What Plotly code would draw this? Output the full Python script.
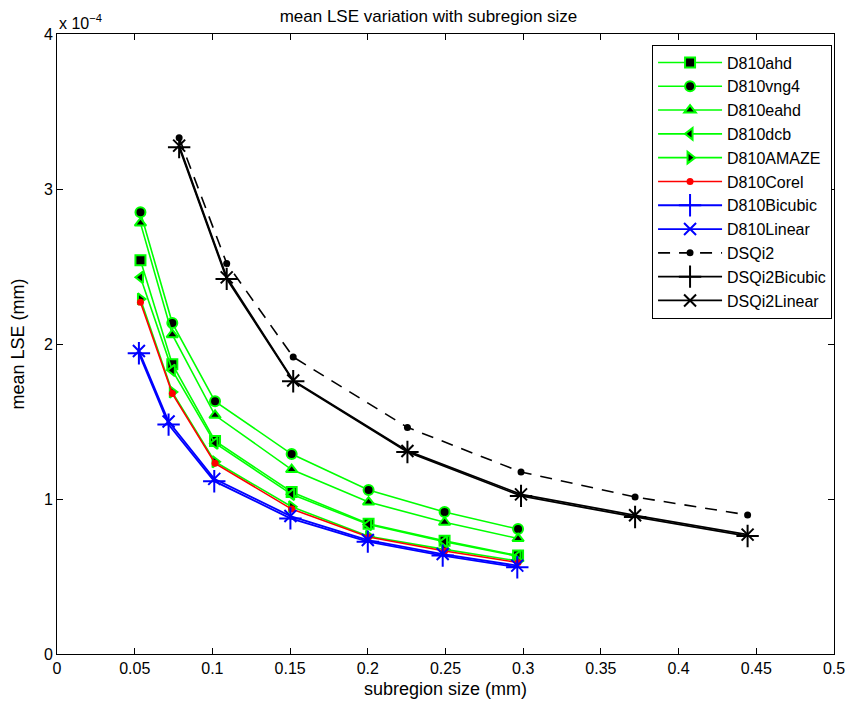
import plotly.graph_objects as go

# D810 series
x_d810 = [0.0537, 0.0742, 0.1017, 0.151, 0.2005, 0.2494, 0.2967]
x_d810_blue = [0.0527, 0.0718, 0.1012, 0.1502, 0.2, 0.2482, 0.2962]
ahd = [2.54, 1.87, 1.375, 1.045, 0.84, 0.73, 0.635]
vng4 = [2.85, 2.135, 1.63, 1.29, 1.058, 0.916, 0.806]
eahd = [2.78, 2.06, 1.54, 1.19, 0.98, 0.85, 0.745]
dcb = [2.43, 1.83, 1.36, 1.03, 0.835, 0.725, 0.63]
amaze = [2.29, 1.69, 1.24, 0.95, 0.76, 0.675, 0.60]
corel = [2.27, 1.68, 1.23, 0.935, 0.755, 0.665, 0.59]
d810_bicubic = [1.94, 1.48, 1.115, 0.875, 0.725, 0.635, 0.56]
d810_linear = [1.955, 1.50, 1.13, 0.89, 0.735, 0.645, 0.57]

# DSQi2 series
x_dsqi2 = [0.0786, 0.1092, 0.152, 0.2255, 0.2986, 0.372, 0.4444]
dsqi2 = [3.33, 2.52, 1.916, 1.462, 1.174, 1.013, 0.897]
dsqi2_bicubic = [3.27, 2.42, 1.76, 1.303, 1.02, 0.884, 0.761]
dsqi2_linear = [3.28, 2.43, 1.765, 1.31, 1.03, 0.895, 0.77]

SCALE = 1e-4
y_ticks = [0, 1, 2, 3, 4]
x_ticks = [0, 0.05, 0.1, 0.15, 0.2, 0.25, 0.3, 0.35, 0.4, 0.45, 0.5]
x_tick_text = ["0", "0.05", "0.1", "0.15", "0.2", "0.25", "0.3", "0.35", "0.4", "0.45", "0.5"]

GREEN = "#00ff00"
fig = go.Figure()

def s(v):
    return [a * SCALE for a in v]

green_series = [
    ("D810ahd", ahd, "square", 10),
    ("D810vng4", vng4, "circle", 10),
    ("D810eahd", eahd, "triangle-up", 10),
    ("D810dcb", dcb, "triangle-left", 10),
    ("D810AMAZE", amaze, "triangle-right", 10),
]
for name, vals, sym, sz in green_series:
    fig.add_trace(go.Scatter(
        x=x_d810, y=s(vals), name=name, mode="lines+markers",
        line=dict(color=GREEN, width=1.6),
        marker=dict(symbol=sym, size=sz, color="black", line=dict(color=GREEN, width=2))))

fig.add_trace(go.Scatter(
    x=x_d810, y=s(corel), name="D810Corel", mode="lines+markers",
    line=dict(color="red", width=1.6),
    marker=dict(symbol="circle", size=7, color="red", line=dict(width=0))))
fig.add_trace(go.Scatter(
    x=x_d810_blue, y=s(d810_bicubic), name="D810Bicubic", mode="lines+markers",
    line=dict(color="blue", width=1.8),
    marker=dict(symbol="cross-thin", size=16, color="blue", line=dict(color="blue", width=2))))
fig.add_trace(go.Scatter(
    x=x_d810_blue, y=s(d810_linear), name="D810Linear", mode="lines+markers",
    line=dict(color="blue", width=1.8),
    marker=dict(symbol="x-thin", size=12, color="blue", line=dict(color="blue", width=2))))

fig.add_trace(go.Scatter(
    x=x_dsqi2, y=s(dsqi2), name="DSQi2", mode="lines+markers",
    line=dict(color="black", width=1.6, dash="12px,9px"),
    marker=dict(symbol="circle", size=7, color="black", line=dict(width=0))))
fig.add_trace(go.Scatter(
    x=x_dsqi2, y=s(dsqi2_bicubic), name="DSQi2Bicubic", mode="lines+markers",
    line=dict(color="black", width=1.8),
    marker=dict(symbol="cross-thin", size=16, color="black", line=dict(color="black", width=2))))
fig.add_trace(go.Scatter(
    x=x_dsqi2, y=s(dsqi2_linear), name="DSQi2Linear", mode="lines+markers",
    line=dict(color="black", width=1.8),
    marker=dict(symbol="x-thin", size=12, color="black", line=dict(color="black", width=2))))

FONT = "Liberation Sans, Arial, Helvetica, sans-serif"
fig.update_layout(
    width=857, height=711,
    margin=dict(l=57, r=18, t=34, b=57),
    paper_bgcolor="white", plot_bgcolor="white",
    font=dict(family=FONT, size=16, color="black"),
    title=dict(text="mean LSE variation with subregion size", x=0.5, xanchor="center",
               y=1 - 16 / 711, yanchor="middle", font=dict(size=17)),
    showlegend=True,
    legend=dict(x=0.9975, xanchor="right", y=0.983, yanchor="top",
                bordercolor="black", borderwidth=1, bgcolor="white",
                font=dict(size=16), tracegroupgap=0, itemwidth=64),
    xaxis=dict(range=[0, 0.5], tickvals=x_ticks, ticktext=x_tick_text,
               ticks="inside", ticklen=6, tickcolor="black", showgrid=False, zeroline=False,
               showline=True, linecolor="black", linewidth=1, mirror="ticks",
               title=dict(text="subregion size (mm)", font=dict(size=18), standoff=6)),
    yaxis=dict(range=[0, 4 * SCALE], tickvals=s(y_ticks), ticktext=[str(t) for t in y_ticks],
               ticks="inside", ticklen=6, tickcolor="black", showgrid=False, zeroline=False,
               showline=True, linecolor="black", linewidth=1, mirror="ticks",
               title=dict(text="mean LSE (mm)", font=dict(size=18), standoff=14)),
)
fig.add_annotation(text="x 10<sup>−4</sup>", xref="paper", yref="paper", x=0, y=1,
                   xanchor="left", yanchor="bottom", showarrow=False, yshift=0,
                   font=dict(size=16))
fig.write_html("out.html")
